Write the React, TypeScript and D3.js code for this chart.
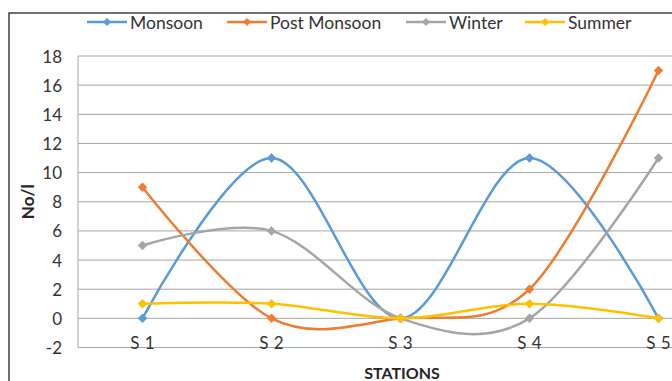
import React from "react";
import * as d3 from "d3";

const categories = ["S 1", "S 2", "S 3", "S 4", "S 5"];
const seriesNames = ["Monsoon", "Post Monsoon", "Winter", "Summer"];
const monsoon = [0, 11, 0, 11, 0];
const postMonsoon = [9, 0, 0, 2, 17];
const winter = [5, 6, 0, 0, 11];
const summer = [1, 1, 0, 1, 0];
const yTicks = [-2, 0, 2, 4, 6, 8, 10, 12, 14, 16, 18];
const colors = ["#5B9BD5", "#ED7D31", "#A5A5A5", "#FFC000"];
const legendX = [87, 227, 406, 525];

const W = 672;
const H = 381;
const FONT = "Lato, 'Open Sans', sans-serif";

const diamondPath = (r: number) => `M0,${-r}L${r},0L0,${r}L${-r},0Z`;

export default function App() {
  const values = [monsoon, postMonsoon, winter, summer];
  const plotLeft = 78;
  const step = 129;
  const x = d3
    .scalePoint<string>()
    .domain(categories)
    .range([plotLeft + step / 2, plotLeft + step / 2 + step * (categories.length - 1)]);
  const y = d3.scaleLinear().domain([-2, 18]).range([347.5, 56]);
  const line = d3
    .line<number>()
    .x((_, i) => x(categories[i]) as number)
    .y((d) => y(d))
    .curve(d3.curveCardinal.tension(0));
  const plotRight = plotLeft + step * categories.length;

  return (
    <svg
      width={W}
      height={H}
      style={{ position: "absolute", left: 0, top: 0, display: "block", background: "#fff" }}
      fontFamily={FONT}
    >
      <rect x={0} y={0} width={W} height={H} fill="#fff" />
      <rect x={9} y={13} width={W + 20} height={H + 20} fill="none" stroke="#404040" strokeWidth={1.5} />

      {yTicks.map((t) => (
        <line key={t} x1={plotLeft} x2={plotRight} y1={y(t)} y2={y(t)} stroke="#A6A6A6" strokeWidth={1} />
      ))}
      <line x1={plotLeft} x2={plotLeft} y1={y(18)} y2={y(-2)} stroke="#A6A6A6" strokeWidth={1} />

      {yTicks.map((t) => (
        <text
          key={t}
          x={62}
          y={y(t)}
          textAnchor="end"
          dominantBaseline="central"
          fontSize={17}
          fill="#333"
        >
          {t}
        </text>
      ))}

      {categories.map((c) => (
        <text key={c} x={x(c)} y={349} textAnchor="middle" fontSize={17} fill="#333" wordSpacing={1}>
          {c}
        </text>
      ))}

      <text
        transform={`translate(34,${(y(18) + y(-2)) / 2}) rotate(-90)`}
        textAnchor="middle"
        fontSize={17}
        fontWeight="bold"
        fill="#262626"
      >
        No/l
      </text>
      <text x={402} y={379} textAnchor="middle" fontSize={16} fontWeight="bold" fill="#262626">
        STATIONS
      </text>

      {values.map((vals, si) => (
        <g key={seriesNames[si]}>
          <path d={line(vals) || ""} fill="none" stroke={colors[si]} strokeWidth={2.5} strokeLinejoin="round" />
          {vals.map((v, i) => (
            <path
              key={i}
              d={diamondPath(4.5)}
              transform={`translate(${x(categories[i])},${y(v)})`}
              fill={colors[si]}
              stroke={colors[si]}
              strokeWidth={0.5}
            />
          ))}
        </g>
      ))}

      {seriesNames.map((n, i) => (
        <g key={n} transform={`translate(${legendX[i]},22)`}>
          <line x1={0} x2={40} y1={0} y2={0} stroke={colors[i]} strokeWidth={2.5} />
          <path d={diamondPath(3.5)} transform="translate(20,0)" fill={colors[i]} stroke={colors[i]} />
          <text x={43} y={0} dominantBaseline="central" fontSize={17.5} fill="#333">
            {n}
          </text>
        </g>
      ))}
    </svg>
  );
}
